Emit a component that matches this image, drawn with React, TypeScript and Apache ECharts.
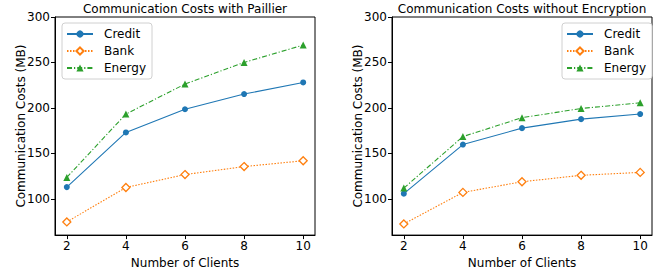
import React, { useEffect, useRef } from "react";
import * as echarts from "echarts";

const clients = [2, 4, 6, 8, 10];
const yTicks = [100, 150, 200, 250, 300];
const xTicks = [2, 4, 6, 8, 10];

const paillierCredit = [112.8, 173, 198.5, 215.2, 228];
const paillierBank = [74.5, 112.4, 126.6, 135.4, 141.8];
const paillierEnergy = [123.5, 193.2, 226.2, 250, 269.1];

const plainCredit = [105.6, 159.6, 177.7, 187.6, 193.2];
const plainBank = [72.3, 107, 118.7, 125.8, 129];
const plainEnergy = [111.7, 168.4, 189.2, 199.3, 205.6];

const titles = ["Communication Costs with Paillier", "Communication Costs without Encryption"];
const seriesNames = ["Credit", "Bank", "Energy"];

const FONT = "DejaVu Sans";
const BLUE = "#1f77b4";
const ORANGE = "#ff7f0e";
const GREEN = "#2ca02c";

function pairs(vals: number[]) {
  return clients.map((c, i) => [c, vals[i]]);
}

export default function App() {
  const ref = useRef<HTMLDivElement>(null);
  useEffect(() => {
    if (!ref.current) return;
    const chart = echarts.init(ref.current, null, { renderer: "svg" });

    const grids = [
      { left: 55, right: 342, top: 17, bottom: 31 },
      { left: 392, right: 5, top: 17, bottom: 31 },
    ];
    const mkX = (gi: number) => ({
      type: "value",
      gridIndex: gi,
      min: 1.6,
      max: 10.4,
      name: "Number of Clients",
      nameLocation: "middle",
      nameGap: 17,
      nameTextStyle: { fontFamily: FONT, fontSize: 12, color: "#000" },
      axisLine: { lineStyle: { color: "#000", width: 1 } },
      axisTick: { show: true, length: 4, customValues: xTicks, lineStyle: { color: "#000" } },
      axisLabel: { customValues: xTicks, fontFamily: FONT, fontSize: 12, color: "#000", margin: 5 },
      splitLine: { show: false },
    });
    const mkY = (gi: number) => ({
      type: "value",
      gridIndex: gi,
      min: 60,
      max: 300,
      name: "Communication Costs (MB)",
      nameLocation: "middle",
      nameGap: 28,
      nameMoveOverlap: false,
      nameTextStyle: { fontFamily: FONT, fontSize: 12, color: "#000" },
      axisLine: { show: true, lineStyle: { color: "#000", width: 1 } },
      axisTick: { show: true, length: 4, customValues: yTicks, lineStyle: { color: "#000" } },
      axisLabel: { customValues: yTicks, fontFamily: FONT, fontSize: 12, color: "#000", margin: 5 },
      splitLine: { show: false },
    });

    const mkSeries = (gi: number, credit: number[], bank: number[], energy: number[]) => [
      {
        name: seriesNames[0],
        type: "line",
        xAxisIndex: gi,
        yAxisIndex: gi,
        data: pairs(credit),
        symbol: "circle",
        symbolSize: 6,
        itemStyle: { color: BLUE },
        lineStyle: { color: BLUE, width: 1.1, type: "solid" },
      },
      {
        name: seriesNames[1],
        type: "line",
        xAxisIndex: gi,
        yAxisIndex: gi,
        data: pairs(bank),
        symbol: "diamond",
        symbolSize: 8,
        itemStyle: { color: "#fff", borderColor: ORANGE, borderWidth: 1.3 },
        lineStyle: { color: ORANGE, width: 1.1, type: [1.5, 1.5] },
      },
      {
        name: seriesNames[2],
        type: "line",
        xAxisIndex: gi,
        yAxisIndex: gi,
        data: pairs(energy),
        symbol: "triangle",
        symbolSize: 7,
        itemStyle: { color: GREEN },
        lineStyle: { color: GREEN, width: 1.1, type: [5, 2, 1.2, 2] },
      },
    ];

    const legendCommon = {
      orient: "vertical",
      top: 23,
      itemWidth: 26,
      itemHeight: 9,
      itemGap: 5,
      padding: [5, 6, 5, 4],
      borderColor: "#d0d0d0",
      borderWidth: 1,
      borderRadius: 3,
      backgroundColor: "#fff",
      textStyle: { fontFamily: FONT, fontSize: 12, color: "#000", padding: [0, 0, 0, 6] },
      data: seriesNames,
    };

    const titleCommon = {
      textAlign: "center",
      top: 3,
      padding: 0,
      textStyle: { fontFamily: FONT, fontSize: 12, fontWeight: "normal", color: "#000" },
    };

    chart.setOption({
      animation: false,
      backgroundColor: "#fff",
      title: [
        { ...titleCommon, text: titles[0], left: 185 },
        { ...titleCommon, text: titles[1], left: 522 },
      ],
      legend: [
        { ...legendCommon, left: 62 },
        { ...legendCommon, left: 562 },
      ],
      grid: grids.map((g) => ({ ...g, show: true, borderColor: "#000", borderWidth: 1, backgroundColor: "transparent" })),
      xAxis: [mkX(0), mkX(1)],
      yAxis: [mkY(0), mkY(1)],
      series: [
        ...mkSeries(0, paillierCredit, paillierBank, paillierEnergy),
        ...mkSeries(1, plainCredit, plainBank, plainEnergy),
      ],
    });
    return () => chart.dispose();
  }, []);
  return <div ref={ref} style={{ width: 657, height: 274, position: "absolute", left: 0, top: 0 }} />;
}
